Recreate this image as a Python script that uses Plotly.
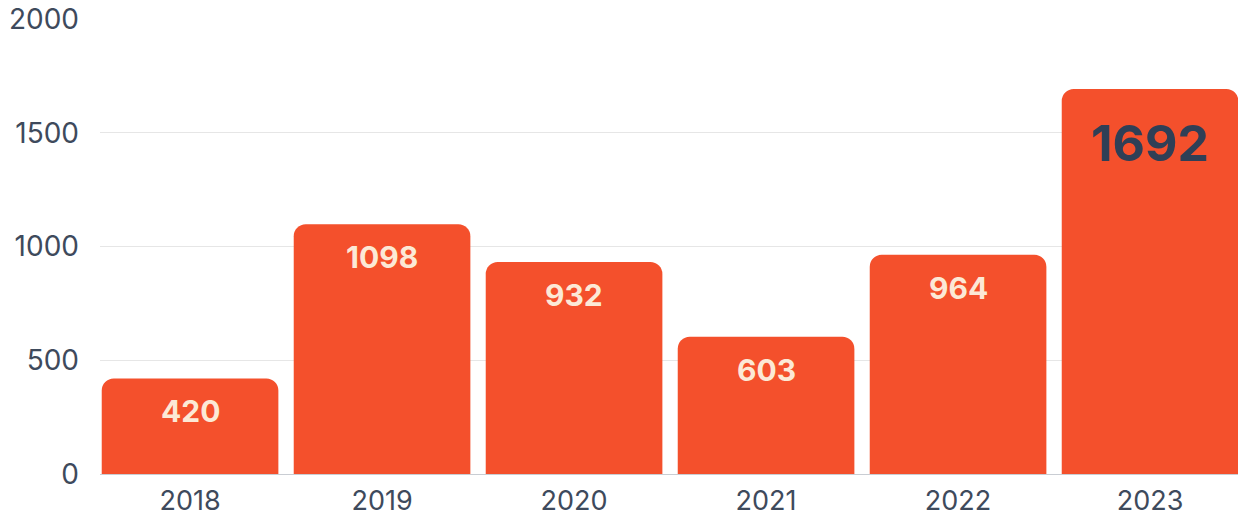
import plotly.graph_objects as go

years = ["2018", "2019", "2020", "2021", "2022", "2023"]
values = [420, 1098, 932, 603, 964, 1692]
y_ticks = [0, 500, 1000, 1500, 2000]

BAR = "#F4502C"
LIGHT = "#FCE9D6"
DARK = "#2F3F56"
AXIS_TXT = "#3E4A5C"

fig = go.Figure()
fig.add_trace(go.Bar(x=years, y=values, marker=dict(color=BAR, line=dict(width=0)),
                     hoverinfo="skip"))

for i, v in enumerate(values):
    big = (i == len(values) - 1)
    fig.add_annotation(
        x=i, y=v, text=f"<b>{v}</b>", showarrow=False,
        xref="x", yref="y",
        yanchor="middle", yshift=-54 if big else -33,
        font=dict(family="Inter", size=50 if big else 30, color=DARK if big else LIGHT),
    )

fig.update_layout(
    width=1238, height=517,
    margin=dict(l=100, r=0, t=19, b=43, autoexpand=False),
    paper_bgcolor="white", plot_bgcolor="white",
    bargap=0.08, barcornerradius=12,
    showlegend=False,
    font=dict(family="Inter", size=28, color=AXIS_TXT),
)
fig.update_xaxes(
    type="category", range=[-0.469, 5.458], automargin=False,
    showline=True, linecolor="#C9CDD3", linewidth=1,
    showgrid=False, ticks="", ticklabelstandoff=3,
    tickfont=dict(size=27, color=AXIS_TXT),
)
fig.update_yaxes(
    range=[0, 2000], tickvals=y_ticks, automargin=False,
    showgrid=True, gridcolor="#E6E6E6", gridwidth=1,
    zeroline=False, showline=False, ticks="",
    ticklabelstandoff=20,
    tickfont=dict(size=28, color=AXIS_TXT),
)

fig.write_html("out.html", config={"displayModeBar": False},
               post_script="document.body.style.margin='0';document.body.style.overflow='hidden';")
